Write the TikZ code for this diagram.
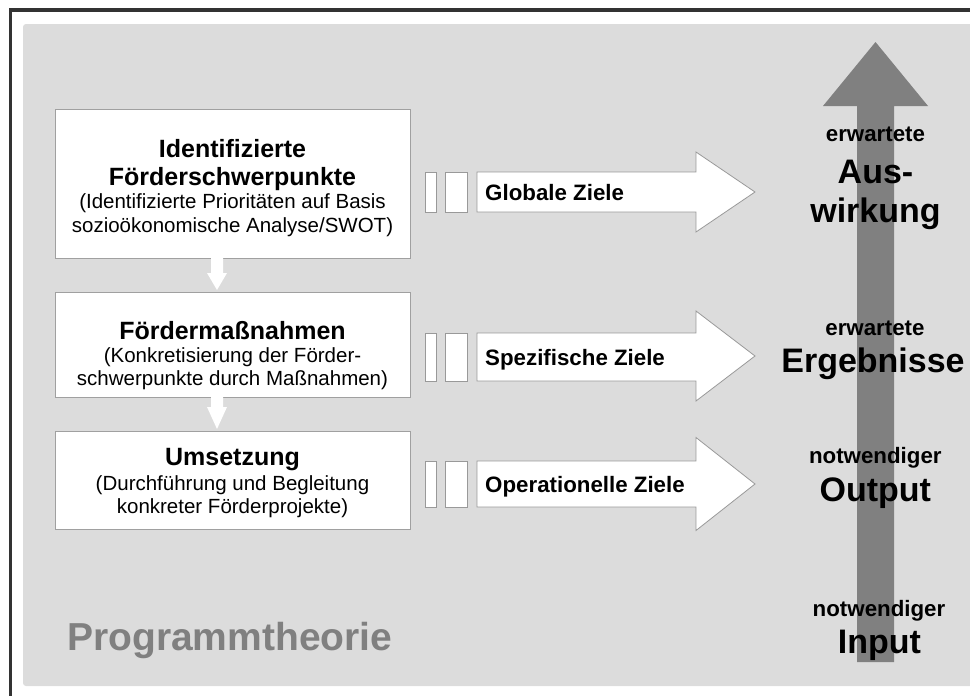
\documentclass[tikz,border=0pt]{standalone}
\usepackage{fontspec}
\setmainfont{Liberation Sans}
\definecolor{bg}{HTML}{DCDCDC}
\definecolor{frame}{HTML}{333333}
\definecolor{boxline}{HTML}{A0A0A0}
\definecolor{arrowline}{HTML}{999999}
\definecolor{biggray}{HTML}{808080}
\begin{document}
\begin{tikzpicture}[x=1pt,y=-1pt,
  box/.style={draw=boxline, fill=white, line width=1pt, inner sep=0pt, minimum width=355pt},
  ttl/.style={font=\fontsize{25}{29}\selectfont\bfseries, inner sep=0pt, anchor=base},
  subt/.style={font=\fontsize{20.5}{24}\selectfont, inner sep=0pt, anchor=base},
  goal/.style={font=\fontsize{22.3}{26}\selectfont\bfseries, inner sep=0pt, anchor=base west},
  small/.style={font=\fontsize{22.3}{26}\selectfont\bfseries, inner sep=0pt, anchor=base},
  large/.style={font=\fontsize{34}{39}\selectfont\bfseries, inner sep=0pt, anchor=base},
  blockarrow/.style={draw=arrowline, fill=white, line width=0.8pt, line join=miter},
  downarrow/.style={fill=white}
]
\useasboundingbox (0,0) rectangle (970,696);
% frame and background
\draw[frame, line width=3.5pt] (10.5,700) -- (10.5,10) -- (975,10);
\fill[bg, rounded corners=3pt] (23,24) rectangle (980,686);

% left boxes
\node[box, minimum height=149pt] (b1) at (232.5,183.5) {};
\node[box, minimum height=105pt] (b2) at (232.5,344.5) {};
\node[box, minimum height=98pt] (b3) at (232.5,480) {};

\node[ttl] (t1a) at (232.5,157) {Identifizierte};
\node[ttl] (t1b) at (232.5,185.5) {Förderschwerpunkte};
\node[subt] (t1c) at (232.5,208.5) {(Identifizierte Prioritäten auf Basis};
\node[subt] (t1d) at (232.5,232.5) {sozioökonomische Analyse/SWOT)};

\node[ttl] (t2a) at (232.5,339) {Fördermaßnahmen};
\node[subt] (t2b) at (232.5,362.5) {(Konkretisierung der Förder-};
\node[subt] (t2c) at (232.5,385.5) {schwerpunkte durch Maßnahmen)};

\node[ttl] (t3a) at (232.5,465.5) {Umsetzung};
\node[subt] (t3b) at (232.5,490.5) {(Durchführung und Begleitung};
\node[subt] (t3c) at (232.5,513.5) {konkreter Förderprojekte)};

% white down arrows between boxes
\fill[downarrow] (211,258) -- (211,273) -- (207,273) -- (217,290) -- (227,273) -- (223,273) -- (223,258) -- cycle;
\fill[downarrow] (211,397) -- (211,407) -- (207,407) -- (217,429) -- (227,407) -- (223,407) -- (223,397) -- cycle;

% right block arrows
\draw[blockarrow] (425,172) rectangle (436,212);
\draw[blockarrow] (445,172) rectangle (467,212);
\draw[blockarrow] (477,172) -- (696,172) -- (696,152) -- (755,192) -- (696,232) -- (696,212) -- (477,212) -- cycle;
\node[goal] (g1) at (485,200.5) {Globale Ziele};

\draw[blockarrow] (425,333) rectangle (436,381);
\draw[blockarrow] (445,333) rectangle (467,381);
\draw[blockarrow] (477,333) -- (696,333) -- (696,311) -- (755,356) -- (696,401) -- (696,381) -- (477,381) -- cycle;
\node[goal] (g2) at (485,365) {Spezifische Ziele};

\draw[blockarrow] (425,461) rectangle (436,507);
\draw[blockarrow] (445,461) rectangle (467,507);
\draw[blockarrow] (477,461) -- (696,461) -- (696,437.5) -- (755,484) -- (696,530.5) -- (696,507) -- (477,507) -- cycle;
\node[goal] (g3) at (485,492) {Operationelle Ziele};

% big gray arrow
\fill[biggray] (857,662) -- (857,106) -- (823,106) -- (875.5,42) -- (928,106) -- (894,106) -- (894,662) -- cycle;

\node[small] (r1a) at (875.5,141.5) {erwartete};
\node[large] (r1b) at (875.5,183.5) {Aus-};
\node[large] (r1c) at (875.5,222) {wirkung};

\node[small] (r2a) at (875,335) {erwartete};
\node[large] (r2b) at (873,372.5) {Ergebnisse};

\node[small] (r3a) at (875.3,463.5) {notwendiger};
\node[large] (r3b) at (875.3,501.5) {Output};

\node[small] (r4a) at (879,616.5) {notwendiger};
\node[large] (r4b) at (879.5,653.5) {Input};

% title
\node[font=\fontsize{39}{45}\selectfont\bfseries, text=biggray, inner sep=0pt, anchor=base west] (pt) at (67,650) {Programmtheorie};
\end{tikzpicture}
\end{document}
